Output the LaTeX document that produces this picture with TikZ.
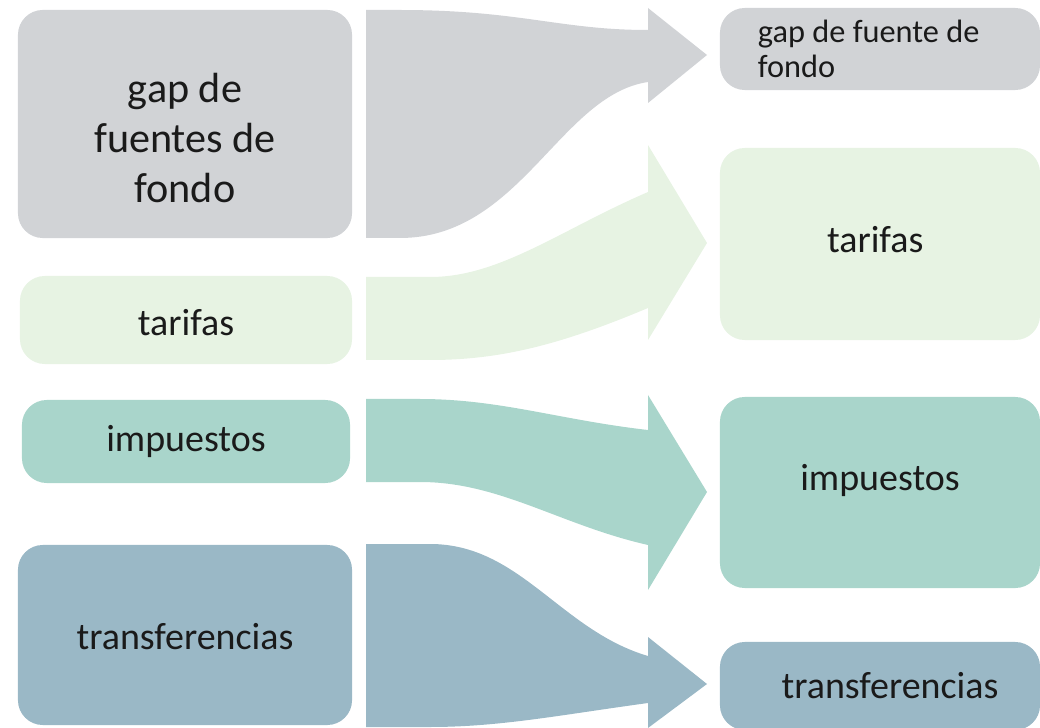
\documentclass[tikz,border=0pt]{standalone}
\usepackage{fontspec}
\setmainfont{Carlito}
\definecolor{gris}{HTML}{D1D3D6}
\definecolor{verdeclaro}{HTML}{E7F3E3}
\definecolor{turquesa}{HTML}{A9D5CB}
\definecolor{azulgris}{HTML}{9AB8C6}
\definecolor{tinta}{HTML}{1A1A1A}
\tikzset{
	caja/.style={rounded corners=0.62cm, inner sep=0pt},
	texto/.style={text=tinta, align=center, inner sep=0pt, font=\fontsize{27}{32}\selectfont}
}
\begin{document}
\begin{tikzpicture}[x=0.025cm,y=-0.025cm]
				\useasboundingbox (0,0) rectangle (1040,728)
				;
				% flechas
				\fill[gris] (366,10) -- (400,10) .. controls (520,10) and (560,30) .. (648,30)
				-- (648,8) -- (707,55) -- (648,103) -- (648,82)
				.. controls (560,95) and (520,238) .. (400,238) -- (366,238) -- cycle
				;
				\fill[verdeclaro] (366,277) -- (430,277) .. controls (500,277) and (560,230) .. (648,192)
				-- (648,145) -- (707,243) -- (648,340) -- (648,308)
				.. controls (560,345) and (500,360) .. (430,360) -- (366,360) -- cycle
				;
				\fill[turquesa] (366,399) -- (420,399) .. controls (500,399) and (560,420) .. (648,430)
				-- (648,395) -- (707,492) -- (648,590) -- (648,545)
				.. controls (560,525) and (500,482) .. (420,482) -- (366,482) -- cycle
				;
				\fill[azulgris] (366,544) -- (430,544) .. controls (520,544) and (560,630) .. (648,656)
				-- (648,637) -- (707,684) -- (648,728) -- (648,703)
				.. controls (560,715) and (500,727) .. (430,727) -- (366,727) -- cycle
				;
				% cajas
				\foreach \n/\c/\x/\y/\w/\h in {gapL/gris/185/124/8.35/5.7, tarL/verdeclaro/186/320/8.3/2.2,
					impL/turquesa/186/441.5/8.2/2.075, traL/azulgris/185/635/8.35/4.5,
					gapR/gris/880/49/8/2.05, tarR/verdeclaro/880/244/8/4.8,
					impR/turquesa/880/492.5/8/4.775, traR/azulgris/880/686/8/2.2}
				\node[caja, fill=\c, minimum width=\w cm, minimum height=\h cm] (\n) at (\x,\y) {}
				;
				% textos
				\node[texto, font=\fontsize{30}{35.5}\selectfont] (gapLt) at ([yshift=-0.35cm]gapL) {gap de\\fuentes de\\fondo};
				\node[texto] (tarLt) at ([yshift=-0.07cm]tarL) {tarifas};
				\node[texto] (impLt) at (impL) {impuestos};
				\node[texto] (traLt) at ([yshift=-0.05cm]traL) {transferencias};
				\node[texto, align=left, anchor=west, font=\fontsize{23}{25}\selectfont] (gapRt) at ([xshift=0.95cm]gapR.west) {gap de fuente de\\fondo};
				\node[texto] (tarRt) at ([xshift=-0.12cm,yshift=0.1cm]tarR) {tarifas};
				\node[texto] (impRt) at ([yshift=0.3cm]impR) {impuestos};
				\node[texto] (traRt) at ([xshift=0.25cm]traR) {transferencias};
\end{tikzpicture}
\end{document}
